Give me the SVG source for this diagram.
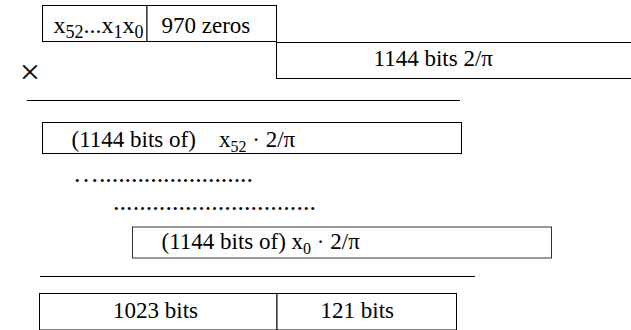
<svg xmlns="http://www.w3.org/2000/svg" width="631" height="330" viewBox="0 0 631 330">
  <style>
    .cell { fill: #ffffff; stroke: #000000; stroke-width: 1; }
    .soft { stroke: #333333; }
    .rule { stroke: #000000; stroke-width: 1; fill: none; }
    .t { font-family: "Liberation Serif", "Times New Roman", serif; font-size: 23px; fill: #000000; }
    .big { font-size: 24px; }
    .sub { font-size: 16px; }
    .big .sub { font-size: 18px; }
    .dots { font-family: "Liberation Serif", "Times New Roman", serif; font-size: 26px; fill: #000000; }
    .op { font-family: "Liberation Serif", "Times New Roman", serif; font-size: 36px; fill: #000000; }
  </style>

  <!-- multiplicand: 53 mantissa bits padded with zeros -->
  <g id="multiplicand">
    <rect class="cell" x="42.5" y="5.5" width="104.5" height="36"/>
    <rect class="cell" x="147" y="5.5" width="129.5" height="36"/>
    <text class="t big" x="53.5" y="33">x<tspan class="sub" dy="5">52</tspan><tspan dy="-5">...x</tspan><tspan class="sub" dy="5">1</tspan><tspan dy="-5">x</tspan><tspan class="sub" dy="5">0</tspan></text>
    <text class="t" x="161.5" y="32.5">970 zeros</text>
  </g>

  <!-- multiplier: bits of 2/pi -->
  <g id="multiplier">
    <rect class="cell" x="276.5" y="42.5" width="360" height="36"/>
    <text class="t" x="373.5" y="66">1144 bits 2/π</text>
    <text class="op" x="30" y="84" text-anchor="middle">×</text>
  </g>

  <!-- partial products -->
  <g id="partial-top">
    <rect class="cell" x="42.5" y="122.5" width="419" height="31"/>
    <text class="t" y="146.5"><tspan x="71.5">(1144 bits of)</tspan><tspan x="219">x</tspan><tspan class="sub" dy="5">52</tspan><tspan dy="-5"> · 2/π</tspan></text>
  </g>

  <g id="partial-middle">
    <text class="dots" x="73" y="182" textLength="180" lengthAdjust="spacing">…........................</text>
    <text class="dots" x="113" y="209.5" textLength="203" lengthAdjust="spacing">...............................</text>
  </g>

  <g id="partial-bottom">
    <rect class="cell soft" x="132.5" y="227" width="419" height="31"/>
    <text class="t" x="161.5" y="249">(1144 bits of) x<tspan class="sub" dy="5">0</tspan><tspan dy="-5"> · 2/π</tspan></text>
  </g>

  <!-- product split into integer and fraction parts -->
  <g id="product">
    <rect class="cell" x="39.5" y="293.5" width="237.5" height="36.5"/>
    <rect class="cell" x="277" y="293.5" width="179.5" height="36.5"/>
    <text class="t" x="113" y="317.5">1023 bits</text>
    <text class="t" x="320.5" y="317.5">121 bits</text>
  </g>

  <!-- summation rules -->
  <g id="rules">
    <line class="rule" x1="27" y1="100.5" x2="460" y2="100.5"/>
    <line class="rule" x1="40" y1="276.5" x2="475" y2="276.5"/>
  </g>
</svg>
